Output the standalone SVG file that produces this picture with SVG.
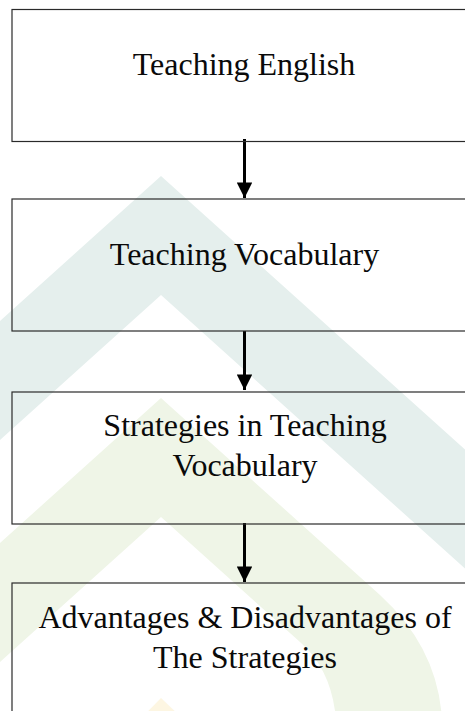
<svg xmlns="http://www.w3.org/2000/svg" width="465" height="711" viewBox="0 0 465 711">
<style>
.box{fill:none;stroke:#2a2a2a;stroke-width:1.2}
.t{font-family:"Liberation Serif","Times New Roman",serif;font-size:32px;fill:#0a0a0a;text-anchor:middle}
.con{stroke:#000;stroke-width:3;fill:none}
.wm{stroke:none}
</style>
<defs>
<marker id="ah" viewBox="0 0 10 10" refX="10" refY="5" markerWidth="5.3" markerHeight="5.2" orient="auto" markerUnits="strokeWidth">
<path d="M0,0 L10,5 L0,10 Z" fill="#000"/>
</marker>
</defs>
<rect width="465" height="711" fill="#fff"/>
<g id="watermark">
<path class="wm" fill="#e5efed" d="M-20,339 L161,176 L480,463 L480,582 L161,295 L-20,458 Z"/>
<path class="wm" fill="#eff5e7" d="M-20,561 L161,398 L380,595 Q438,648 442,720 L336,720 Q332,670 300,642 L161,517 L-20,680 Z"/>
<path class="wm" fill="#fdf6e2" d="M120,740 L161,698 L205,740 Z"/>
</g>
<g id="connectors">
<line class="con" x1="244.5" y1="139" x2="244.5" y2="198" marker-end="url(#ah)"/>
<line class="con" x1="244.5" y1="331" x2="244.5" y2="390" marker-end="url(#ah)"/>
<line class="con" x1="244.5" y1="523" x2="244.5" y2="582" marker-end="url(#ah)"/>
</g>
<g id="n1">
<rect class="box" x="12" y="9.5" width="470" height="132"/>
<text class="t" x="244" y="75">Teaching English</text>
</g>
<g id="n2">
<rect class="box" x="12" y="199" width="470" height="132"/>
<text class="t" x="244.5" y="265">Teaching Vocabulary</text>
</g>
<g id="n3">
<rect class="box" x="12" y="392" width="470" height="132"/>
<text class="t" x="245" y="436">Strategies in Teaching</text>
<text class="t" x="245" y="476">Vocabulary</text>
</g>
<g id="n4">
<rect class="box" x="12" y="583" width="470" height="160"/>
<text class="t" x="245" y="628">Advantages &amp; Disadvantages of</text>
<text class="t" x="245" y="668">The Strategies</text>
</g>
</svg>
